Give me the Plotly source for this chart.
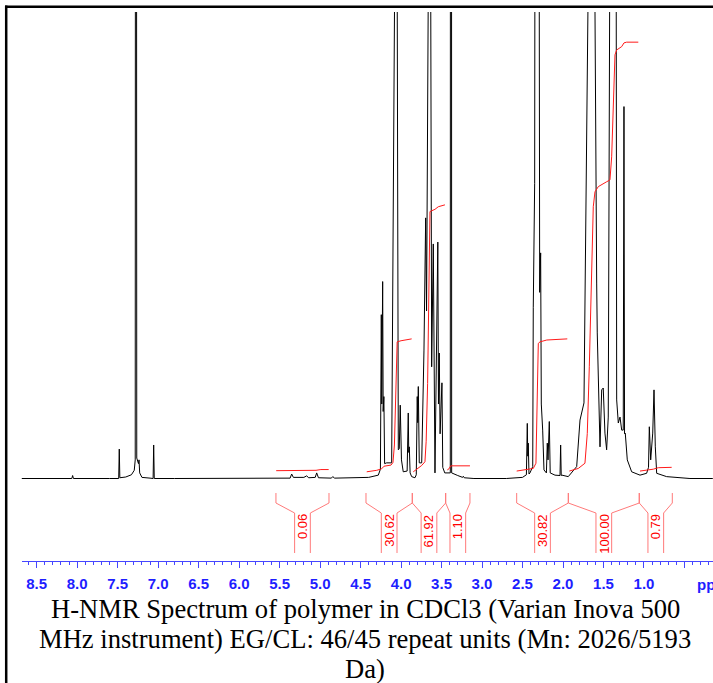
import plotly.graph_objects as go

# ---------------- data ----------------
# 1H-NMR spectrum: chemical shift (ppm) and intensity (a.u., peak at 1.25 ppm ~ 100)
spec_ppm = [8.69, 8.30, 8.066, 8.056, 8.046, 7.60, 7.487, 7.480, 7.473, 7.40, 7.33, 7.295,
            7.283, 7.274, 7.264, 7.243, 7.236, 7.228, 7.20, 7.10, 7.062, 7.055, 7.048,
            6.80, 6.00, 5.60, 5.37, 5.351, 5.33, 5.20, 5.166, 5.14, 5.06, 5.042, 5.02,
            4.86, 4.844, 4.82, 4.50, 4.40, 4.281, 4.255, 4.244, 4.238, 4.227, 4.221,
            4.212, 4.203, 4.178, 4.116, 4.081, 4.064, 4.047, 4.034, 4.022, 4.010, 3.995,
            3.973, 3.925, 3.911, 3.905, 3.898, 3.888, 3.869, 3.828, 3.812, 3.800, 3.794,
            3.787, 3.775, 3.745, 3.717, 3.696, 3.685, 3.665, 3.649, 3.633, 3.622, 3.602,
            3.581, 3.546, 3.538, 3.528, 3.518, 3.495, 3.485, 3.460, 3.392, 3.383, 3.375,
            3.30, 3.24, 3.231, 3.22, 3.10, 2.70, 2.50, 2.470, 2.452, 2.441, 2.435, 2.429,
            2.420, 2.408, 2.374, 2.367, 2.350, 2.325, 2.309, 2.293, 2.288, 2.276, 2.268,
            2.251, 2.235, 2.205, 2.194, 2.185, 2.169, 2.158, 2.099, 2.037, 2.029, 2.022,
            2.013, 1.935, 1.831, 1.790, 1.769, 1.741, 1.692, 1.648, 1.605, 1.593, 1.584,
            1.577, 1.559, 1.543, 1.522, 1.503, 1.482, 1.461, 1.441, 1.424, 1.383, 1.343,
            1.337, 1.317, 1.296, 1.275, 1.256, 1.247, 1.240, 1.231, 1.206, 1.152, 1.049,
            0.967, 0.944, 0.934, 0.917, 0.892, 0.876, 0.860, 0.843, 0.720, 0.432, 0.15]
spec_int = [0.0, 0.0, 0.0, 0.8, 0.0, 0.0, 0.0, 7.9, 0.2, 0.4, 1.0, 2.2,
            5.0, 600, 5.5, 4.0, 5.0, 1.5, 0.3, 0.1, 0.0, 9.0, 0.0,
            0.0, 0.0, 0.0, 0.1, 1.2, 0.3, 0.3, 0.7, 0.2, 0.3, 1.5, 0.2,
            0.1, 0.5, 0.1, 0.1, 0.3, 0.9, 2.5, 44.0, 20.0, 52.9, 18.0,
            22.0, 4.0, 4.2, 4.2, 126, 800, 126, 7.7, 8.0, 19.7, 5.0,
            1.8, 2.0, 17.6, 7.0, 8.5, 1.5, 0.5, 0.2, 1.0, 22.0, 15.0,
            24.7, 4.2, 4.2, 34.5, 70.0, 45.0, 126, 900, 126, 30.0, 63.0,
            1.5, 63.5, 20.0, 33.7, 12.0, 25.7, 3.0, 1.5, 1.5, 900, 1.5,
            0.8, 0.3, 0.6, 0.2, 0.0, 0.0, 0.3, 0.9, 1.0, 14.8, 6.0, 9.5,
            1.2, 1.5, 3.2, 46.0, 79.3, 126, 900, 126, 50.0, 60.6, 20.0,
            13.0, 2.3, 1.5, 9.5, 5.0, 15.3, 1.5, 0.9, 0.8, 9.0, 0.8,
            0.9, 0.5, 3.2, 15.7, 17.9, 20.3, 126, 900, 126, 65.9, 52.5,
            39.1, 21.1, 8.5, 23.8, 24.3, 12.2, 7.7, 16.5, 126, 900, 126,
            21.1, 14.9, 16.5, 13.0, 13.0, 99.9, 12.0, 12.2, 5.0, 1.8, 0.9,
            1.4, 3.0, 13.9, 5.0, 12.2, 23.8, 8.5, 1.4, 0.5, 0.0, 0.0]

# integral curves (ppm, height in the same a.u.)
int_ppm = [
    [5.542, 5.10, 5.05, 4.99, 4.894],
    [4.424, 4.30, 4.24, 4.21, 4.124, 4.100, 4.082, 4.068, 4.056, 4.048, 4.00, 3.869],
    [3.849, 3.80, 3.745, 3.705, 3.690, 3.672, 3.655, 3.643, 3.581, 3.540, 3.458],
    [3.429, 3.408, 3.387, 3.371, 3.149],
    [2.572, 2.45, 2.367, 2.334, 2.318, 2.305, 2.284, 2.20, 1.947],
    [1.922, 1.811, 1.729, 1.700, 1.675, 1.646, 1.626, 1.605, 1.564, 1.461, 1.420,
     1.399, 1.379, 1.358, 1.337, 1.275, 1.247, 1.214, 1.070],
    [1.049, 0.885, 0.823, 0.658],
]
int_val = [
    [2.1, 2.1, 2.2, 2.4, 2.4],
    [1.8, 2.2, 2.6, 3.3, 3.6, 4.3, 9.0, 22.0, 35.5, 36.7, 37.0, 37.5],
    [1.8, 2.5, 3.5, 4.5, 10.0, 25.5, 60.0, 71.7, 72.3, 73.0, 73.5],
    [2.3, 2.6, 3.4, 3.4, 3.4],
    [2.0, 2.4, 2.7, 4.1, 20.0, 36.3, 36.7, 37.2, 37.5],
    [2.0, 2.7, 4.1, 12.1, 30.0, 56.9, 73.0, 77.0, 78.4, 79.7, 80.2,
     86.4, 101.7, 113.8, 115.1, 116.0, 117.0, 117.2, 117.2],
    [2.0, 2.5, 2.9, 3.0],
]

# integration regions (ppm bounds) and integral values
region_hi = [5.545, 4.433, 3.861, 3.449, 2.572, 1.934, 1.058]
region_lo = [4.890, 3.861, 3.449, 3.149, 1.934, 1.058, 0.650]
region_labels = ["0.06", "30.62", "61.92", "1.10", "30.82", "100.00", "0.79"]

# axis ticks
tick_vals = [8.5, 8.0, 7.5, 7.0, 6.5, 6.0, 5.5, 5.0, 4.5, 4.0, 3.5, 3.0, 2.5, 2.0, 1.5, 1.0, 0.5]
tick_text = ["8.5", "8.0", "7.5", "7.0", "6.5", "6.0", "5.5", "5.0", "4.5", "4.0",
             "3.5", "3.0", "2.5", "2.0", "1.5", "1.0", ""]

title_lines = ["H-NMR Spectrum of polymer in CDCl3 (Varian Inova 500",
               "MHz instrument) EG/CL: 46/45 repeat units (Mn: 2026/5193",
               "Da)"]

# ---------------- layout constants ----------------
W, H = 713, 683
X_DOMAIN = [21.7 / W, 1.0]
X_RANGE = [8.685, 0.1475]
Y_DOMAIN = [1 - 561 / H, 1 - 12 / H]
Y_RANGE = [-22.16, 125.3]


def py(p):
    return 1 - p / H


AXIS_BLUE = "#4646ff"
TEXT_BLUE = "#1e1eff"

fig = go.Figure()
fig.add_trace(go.Scatter(x=spec_ppm, y=spec_int, mode="lines",
                         line=dict(color="black", width=1), hoverinfo="skip"))
for xs, ys in zip(int_ppm, int_val):
    fig.add_trace(go.Scatter(x=xs, y=ys, mode="lines",
                             line=dict(color="#ff1a1a", width=1), hoverinfo="skip"))

px_per_ppm = W * (X_DOMAIN[1] - X_DOMAIN[0]) / (X_RANGE[0] - X_RANGE[1])
half = 7.85 / px_per_ppm

shapes = []
annotations = []
for hi, lo, lab in zip(region_hi, region_lo, region_labels):
    c = (hi + lo) / 2
    path = (f"M {hi},{py(493)} L {hi},{py(503)} L {c + half},{py(513)} L {c + half},{py(553)} "
            f"M {lo},{py(493)} L {lo},{py(503)} L {c - half},{py(513)} L {c - half},{py(553)}")
    shapes.append(dict(type="path", path=path, xref="x", yref="paper",
                       line=dict(color="#ff7a7a", width=1)))
    annotations.append(dict(x=c, y=py(512), xref="x", yref="paper", text=lab,
                            textangle=-90, xanchor="center", yanchor="top",
                            showarrow=False,
                            font=dict(family="Liberation Sans", size=13, color="#ff0000")))

# frame
shapes.append(dict(type="line", xref="paper", yref="paper", x0=6.2 / W, x1=6.2 / W,
                   y0=py(5.5), y1=-0.01, line=dict(color="black", width=2.5)))
shapes.append(dict(type="line", xref="paper", yref="paper", x0=5.0 / W, x1=1.01,
                   y0=py(6.7), y1=py(6.7), line=dict(color="black", width=2.5)))

annotations.append(dict(x=695 / W, y=py(584), xref="paper", yref="paper", text="ppm",
                        xanchor="left", yanchor="middle", showarrow=False,
                        font=dict(family="Liberation Sans", size=15, color=TEXT_BLUE,
                                  weight="bold")))
for i, line in enumerate(title_lines):
    annotations.append(dict(x=365.4 / W, y=py(609.0 + 30 * i), xref="paper", yref="paper",
                            text=line, xanchor="center", yanchor="middle", showarrow=False,
                            font=dict(family="Liberation Serif", size=26.6, color="black")))

fig.update_layout(
    width=W, height=H, margin=dict(l=0, r=0, t=0, b=0),
    paper_bgcolor="white", plot_bgcolor="white", showlegend=False,
    shapes=shapes, annotations=annotations,
    xaxis=dict(domain=X_DOMAIN, range=X_RANGE, showline=True, linecolor=AXIS_BLUE,
               linewidth=1, ticks="outside", tickcolor=AXIS_BLUE, ticklen=6, tickwidth=1,
               tickmode="array", tickvals=tick_vals, ticktext=tick_text,
               ticklabelstandoff=3,
               tickfont=dict(family="Liberation Sans", size=15, color=TEXT_BLUE,
                             weight="bold"),
               showgrid=False, zeroline=False,
               minor=dict(dtick=0.1, tick0=0, ticks="outside", ticklen=3,
                          tickcolor=AXIS_BLUE, tickwidth=1, showgrid=False)),
    yaxis=dict(domain=Y_DOMAIN, range=Y_RANGE, visible=False),
)

fig.write_html("out.html", config={"displayModeBar": False},
               post_script="document.body.style.margin='0';")
